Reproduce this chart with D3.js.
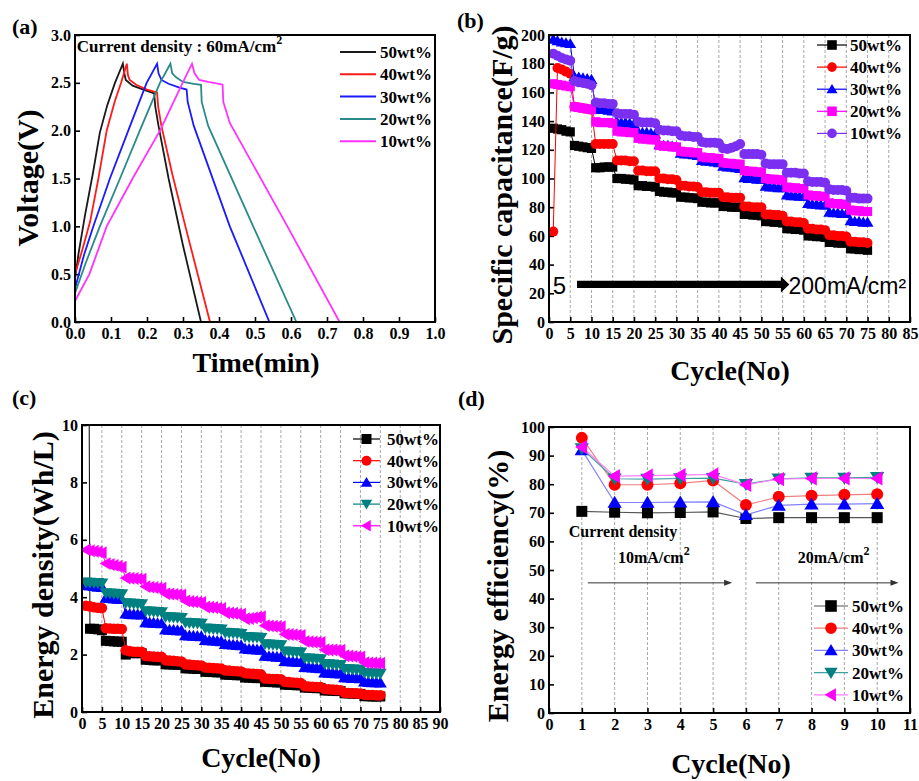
<!DOCTYPE html>
<html><head><meta charset="utf-8">
<script src="https://cdn.jsdelivr.net/npm/d3@7"></script>
<style>
body{margin:0;background:#fff}
svg text{font-family:"Liberation Serif","Times New Roman",serif;font-weight:bold;fill:#000}
</style>
</head><body>
<svg id="chart" width="919" height="781"></svg>
<script>
// ---------- shared ----------
const seriesNames = ["50wt%", "40wt%", "30wt%", "20wt%", "10wt%"];

// ---------- (a) galvanostatic charge/discharge ----------
const aXTicks = [0, 0.1, 0.2, 0.3, 0.4, 0.5, 0.6, 0.7, 0.8, 0.9, 1.0];
const aYTicks = [0, 0.5, 1.0, 1.5, 2.0, 2.5, 3.0];
const aColors = ["#1a1a1a", "#ff1a1a", "#1a1aff", "#2a8a8a", "#ff33ff"];
const a50 = [[0,0.45],[0.01,0.72],[0.028,1.12],[0.05,1.56],[0.069,1.98],[0.09,2.27],[0.111,2.5],[0.133,2.7],[0.137,2.6],[0.141,2.53],[0.16,2.47],[0.19,2.43],[0.22,2.39],[0.223,2.25],[0.232,2.05],[0.26,1.5],[0.3,0.8],[0.35,0]];
const a40 = [[0,0.5],[0.02,0.75],[0.042,1.05],[0.065,1.5],[0.088,2.0],[0.11,2.3],[0.128,2.5],[0.144,2.7],[0.147,2.58],[0.152,2.53],[0.17,2.48],[0.2,2.43],[0.228,2.4],[0.231,2.25],[0.24,2.05],[0.27,1.55],[0.31,0.95],[0.375,0]];
const a30 = [[0,0.35],[0.025,0.7],[0.051,1.0],[0.097,1.5],[0.148,2.0],[0.199,2.5],[0.228,2.7],[0.232,2.6],[0.24,2.53],[0.26,2.49],[0.29,2.45],[0.31,2.43],[0.313,2.3],[0.33,2.05],[0.43,1.0],[0.54,0]];
const a20 = [[0,0.3],[0.03,0.62],[0.069,1.0],[0.125,1.5],[0.18,2.0],[0.236,2.5],[0.265,2.7],[0.27,2.6],[0.28,2.56],[0.3,2.51],[0.33,2.49],[0.35,2.48],[0.352,2.3],[0.37,2.05],[0.495,1.0],[0.615,0]];
const a10 = [[0,0.22],[0.04,0.5],[0.088,1.0],[0.16,1.5],[0.236,2.0],[0.299,2.5],[0.325,2.7],[0.332,2.6],[0.345,2.53],[0.37,2.51],[0.4,2.49],[0.41,2.48],[0.412,2.3],[0.43,2.08],[0.59,1.0],[0.735,0]];

// ---------- (b) specific capacitance ----------
const cycles = [1,2,3,4,5,6,7,8,9,10,11,12,13,14,15,16,17,18,19,20,21,22,23,24,25,26,27,28,29,30,31,32,33,34,35,36,37,38,39,40,41,42,43,44,45,46,47,48,49,50,51,52,53,54,55,56,57,58,59,60,61,62,63,64,65,66,67,68,69,70,71,72,73,74,75];
const bXTicks = [0,5,10,15,20,25,30,35,40,45,50,55,60,65,70,75,80,85];
const bYTicks = [0,20,40,60,80,100,120,140,160,180,200];
const bGrid = [5,10,15,20,25,30,35,40,45,50,55,60,65,70,75,80];
const bColors = ["#000000", "#ff0000", "#0000ff", "#ff00ff", "#7b2ff0"];
const b50 = [135,134.5,134,133,132.5, 123,122.5,122,121.5,121, 107.5,107.5,108,108,108, 100,100,99.5,99.5,99, 95,95,94.5,94.5,94, 91,90.5,90.5,90,90, 87,87,86.5,86.5,86, 83.5,83.5,83,83,83, 80.5,80.5,80,80,80, 75,75,74.5,74.5,74, 70,70,69.5,69.5,69, 65,65,64.5,64.5,64, 60,60,59.5,59.5,59, 55.5,55.5,55,55,55, 51,51,50.5,50.5,50];
const b40 = [63,177,176,174.5,173, 150,149.5,149,148.5,148, 124,124,124,124,124, 112.5,112.5,112.5,112,112, 105.5,105.5,105,105,105, 100,100,99.5,99.5,99, 95,95,94.5,94.5,94, 90.5,90.5,90,90,90, 87,87,86.5,86.5,86.5, 80.5,80.5,80,80,80, 75,75,74.5,74.5,74, 70,70,69.5,69.5,69, 65,65,64.5,64.5,64, 60.5,60.5,60,60,59.5, 56,56,55.5,55.5,55];
const b30 = [197,196,195,194.5,194, 171,170.5,170,169.5,169, 148.5,148,148,147.5,147, 139.5,139,139,138.5,138, 132.5,132,132,131.5,131, 123.5,123,123,122.5,122, 117.5,117,117,116.5,116, 112.5,112,112,111.5,111, 108.5,108,108,107.5,107, 100.5,100,100,99.5,99.5, 94.5,94,94,93.5,93.5, 88.5,88,88,87.5,87.5, 82.5,82,82,81.5,81.5, 76.5,76,76,75.5,75.5, 70.5,70,70,69.5,69.5];
const b20 = [166,165.5,165,164.5,164, 150,149.5,149,148.5,148, 139.5,139,139,139,138.5, 133,132.5,132.5,132,132, 128,127.5,127.5,127,127, 123,122.5,122.5,122,122, 119,118.5,118.5,118,118, 115,114.5,114.5,114,114, 111,110.5,110.5,110,110, 105.5,105,105,104.5,104.5, 100,99.5,99.5,99,99, 94,93.5,93.5,93,93, 88.5,88,88,87.5,87.5, 83,82.5,82.5,82,82, 78,77.5,77.5,77,77];
const b10 = [187,185.5,184,183,182, 168,167,166.5,166,165, 153,152.5,152.5,152,152, 145.5,145,145,145,144.5, 139.5,139,139,139,138.5, 134,133.5,133.5,133,133, 130,129.5,129.5,129,129, 125.5,125,125,125,124.5, 121,120.5,121.5,122.5,124, 117,117,117,117,116.5, 110.5,110,110,110,110, 104,104,104,103.5,103.5, 98,97.5,97.5,97.5,97, 92.5,92,92,92,91.5, 86.5,86.5,86,86,86];

// ---------- (c) energy density ----------
const cXTicks = [0,5,10,15,20,25,30,35,40,45,50,55,60,65,70,75,80,85,90];
const cYTicks = [0,2,4,6,8,10];
const cGrid = [5,10,15,20,25,30,35,40,45,50,55,60,65,70,75,80,85];
const cColors = ["#000000", "#ff0000", "#0000ff", "#008080", "#ff00ff"];
const c50 = [40,2.9,2.9,2.88,2.85, 2.48,2.47,2.46,2.45,2.45, 2.0,2.05,2.05,2.05,2.05, 1.82,1.82,1.8,1.8,1.8, 1.66,1.66,1.65,1.65,1.64, 1.52,1.52,1.51,1.5,1.5, 1.4,1.4,1.39,1.38,1.38, 1.3,1.3,1.29,1.28,1.28, 1.2,1.2,1.19,1.18,1.18, 1.05,1.05,1.04,1.03,1.03, 0.95,0.95,0.94,0.93,0.93, 0.85,0.85,0.84,0.83,0.83, 0.75,0.75,0.74,0.73,0.73, 0.65,0.65,0.64,0.63,0.63, 0.55,0.55,0.54,0.54,0.54];
const c40 = [3.7,3.68,3.65,3.63,3.62, 2.92,2.91,2.9,2.9,2.89, 2.15,2.12,2.1,2.1,2.1, 1.95,1.94,1.93,1.92,1.92, 1.8,1.79,1.78,1.77,1.76, 1.66,1.65,1.64,1.63,1.62, 1.55,1.54,1.53,1.52,1.51, 1.45,1.44,1.43,1.42,1.41, 1.35,1.34,1.33,1.32,1.31, 1.17,1.16,1.15,1.15,1.14, 1.05,1.04,1.03,1.02,1.01, 0.9,0.89,0.88,0.87,0.87, 0.8,0.79,0.78,0.77,0.76, 0.67,0.66,0.65,0.65,0.64, 0.6,0.59,0.59,0.58,0.58];
const c30 = [4.42,4.4,4.38,4.36,4.35, 3.97,3.96,3.95,3.94,3.93, 3.42,3.41,3.4,3.4,3.39, 3.12,3.11,3.1,3.09,3.08, 2.87,2.86,2.85,2.84,2.83, 2.67,2.66,2.65,2.64,2.63, 2.5,2.49,2.48,2.47,2.46, 2.36,2.35,2.34,2.33,2.32, 2.2,2.19,2.18,2.17,2.16, 1.95,1.94,1.93,1.92,1.91, 1.77,1.76,1.75,1.74,1.73, 1.56,1.55,1.54,1.53,1.52, 1.37,1.36,1.35,1.34,1.33, 1.2,1.19,1.18,1.18,1.17, 1.05,1.04,1.03,1.03,1.02];
const c20 = [4.52,4.51,4.5,4.5,4.49, 4.15,4.14,4.13,4.12,4.11, 3.8,3.79,3.78,3.77,3.76, 3.52,3.51,3.5,3.49,3.48, 3.32,3.31,3.3,3.29,3.28, 3.12,3.11,3.1,3.09,3.08, 2.92,2.91,2.9,2.89,2.88, 2.77,2.76,2.75,2.74,2.73, 2.62,2.61,2.6,2.6,2.59, 2.37,2.36,2.35,2.34,2.33, 2.12,2.11,2.1,2.09,2.08, 1.88,1.87,1.86,1.85,1.85, 1.68,1.67,1.66,1.65,1.65, 1.51,1.5,1.49,1.48,1.48, 1.37,1.36,1.35,1.35,1.34];
const c10 = [5.65,5.62,5.6,5.58,5.55, 5.17,5.14,5.11,5.08,5.05, 4.67,4.66,4.65,4.64,4.63, 4.37,4.35,4.34,4.32,4.31, 4.12,4.11,4.1,4.09,4.08, 3.87,3.85,3.84,3.83,3.82, 3.66,3.65,3.64,3.62,3.61, 3.46,3.45,3.44,3.42,3.41, 3.25,3.26,3.28,3.3,3.32, 3.01,3.0,2.99,2.98,2.97, 2.71,2.7,2.69,2.68,2.67, 2.46,2.45,2.44,2.43,2.42, 2.17,2.16,2.16,2.15,2.15, 1.96,1.95,1.94,1.93,1.92, 1.72,1.71,1.71,1.7,1.7];

// ---------- (d) energy efficiency ----------
const dCycles = [1,2,3,4,5,6,7,8,9,10];
const dXTicks = [0,1,2,3,4,5,6,7,8,9,10,11];
const dYTicks = [0,10,20,30,40,50,60,70,80,90,100];
const dGrid = [1,2,3,4,5,6,7,8,9,10];
const dLineColors = ["#555555", "#f08080", "#8080ff", "#40a0a0", "#ff80ff"];
const d50 = [70.5,70.2,70.0,70.1,70.3,68.0,68.3,68.3,68.3,68.3];
const d40 = [96.2,79.8,79.8,80.3,81.3,72.7,75.6,76.0,76.3,76.5];
const d30 = [92.0,73.6,73.6,73.7,73.8,69.3,72.6,73.0,73.0,73.2];
const d20 = [92.5,81.9,81.8,82.0,82.1,80.0,81.9,82.2,82.2,82.4];
const d10 = [93.0,82.8,83.0,83.2,83.4,79.8,81.8,82.0,82.0,82.0];

// ---------- drawing helpers ----------
const svg = d3.select("#chart");
const FONT = '"Liberation Serif","Times New Roman",serif';
const SANS = '"Liberation Sans",Arial,sans-serif';

function shape(type, s) {
  switch (type) {
    case "square": return `M${-s},${-s}h${2*s}v${2*s}h${-2*s}Z`;
    case "circle": return `M${s},0A${s},${s} 0 1,1 ${-s},0A${s},${s} 0 1,1 ${s},0Z`;
    case "up": return `M0,${-s*1.1}L${s*1.15},${s*0.85}L${-s*1.15},${s*0.85}Z`;
    case "down": return `M0,${s*1.1}L${s*1.15},${-s*0.85}L${-s*1.15},${-s*0.85}Z`;
    case "left": return `M${-s*1.1},0L${s*0.85},${-s*1.15}L${s*0.85},${s*1.15}Z`;
  }
}

let clipId = 0;
function panel(box, xDom, yDom, xTicks, yTicks, xFmt, yFmt, grid) {
  const g = svg.append("g");
  const x = d3.scaleLinear().domain(xDom).range([box.x0, box.x1]);
  const y = d3.scaleLinear().domain(yDom).range([box.y1, box.y0]);
  const id = "clip" + (clipId++);
  g.append("clipPath").attr("id", id).append("rect")
    .attr("x", box.x0).attr("y", box.y0).attr("width", box.x1 - box.x0).attr("height", box.y1 - box.y0);
  if (grid) {
    g.append("g").selectAll("line").data(grid).join("line")
      .attr("x1", d => x(d)).attr("x2", d => x(d))
      .attr("y1", box.y0).attr("y2", box.y1)
      .attr("stroke", "#a8a8a8").attr("stroke-width", 1).attr("stroke-dasharray", "3,2");
  }
  const style = sel => {
    sel.select(".domain").remove();
    sel.attr("font-family", FONT).attr("font-size", 16).attr("font-weight", "bold");
    sel.selectAll(".tick line").attr("stroke", "#000").attr("stroke-width", 1.6);
    sel.selectAll(".tick text").attr("fill", "#000");
  };
  g.append("g").attr("transform", `translate(0,${box.y1})`)
    .call(d3.axisBottom(x).tickValues(xTicks).tickFormat(xFmt).tickSize(-5).tickPadding(6)).call(style);
  g.append("g").attr("transform", `translate(${box.x0},0)`)
    .call(d3.axisLeft(y).tickValues(yTicks).tickFormat(yFmt).tickSize(-5).tickPadding(4)).call(style);
  const plot = g.append("g").attr("clip-path", `url(#${id})`);
  const over = g.append("g");
  g.append("rect").attr("x", box.x0).attr("y", box.y0)
    .attr("width", box.x1 - box.x0).attr("height", box.y1 - box.y0)
    .attr("fill", "none").attr("stroke", "#000").attr("stroke-width", 2);
  return {g, x, y, plot, over, box};
}

function drawSeries(p, xs, ys, color, lineColor, type, size, lw) {
  const pts = xs.map((c, i) => [c, ys[i]]);
  p.plot.append("path").datum(pts)
    .attr("d", d3.line().x(d => p.x(d[0])).y(d => p.y(d[1])))
    .attr("fill", "none").attr("stroke", lineColor).attr("stroke-width", lw);
  p.plot.append("g").selectAll("path").data(pts).join("path")
    .attr("transform", d => `translate(${p.x(d[0])},${p.y(d[1])})`)
    .attr("d", shape(type, size)).attr("fill", color);
}

function legend(g, items, x0, x1, tx, y0, dy, size) {
  items.forEach((it, i) => {
    const yy = y0 + i * dy;
    g.append("line").attr("x1", x0).attr("x2", x1).attr("y1", yy).attr("y2", yy)
      .attr("stroke", it.line).attr("stroke-width", it.lw || 1.2);
    if (it.type) g.append("path").attr("transform", `translate(${(x0 + x1) / 2},${yy})`)
      .attr("d", shape(it.type, size)).attr("fill", it.color);
    g.append("text").attr("x", tx).attr("y", yy + 6).attr("font-size", 17).text(it.name);
  });
}

function yTitle(x, y, txt) {
  svg.append("text").attr("transform", `translate(${x},${y}) rotate(-90)`)
    .attr("text-anchor", "middle").attr("font-size", 30).text(txt);
}
function xTitle(x, y, txt) {
  svg.append("text").attr("x", x).attr("y", y).attr("text-anchor", "middle").attr("font-size", 28).text(txt);
}
function label(x, y, txt) {
  svg.append("text").attr("x", x).attr("y", y).attr("font-size", 22).text(txt);
}

// ---------- panel (a) ----------
const pa = panel({x0: 75, x1: 435, y0: 35, y1: 322}, [0, 1], [0, 3], aXTicks, aYTicks, d3.format(".1f"), d3.format(".1f"));
[a50, a40, a30, a20, a10].forEach((s, i) => {
  pa.plot.append("path").datum(s)
    .attr("d", d3.line().x(d => pa.x(d[0])).y(d => pa.y(d[1])))
    .attr("fill", "none").attr("stroke", aColors[i]).attr("stroke-width", 1.8);
});
const aNote = pa.over.append("text").attr("x", pa.x(0.005)).attr("y", pa.y(2.82)).attr("font-size", 17);
aNote.append("tspan").text("Current density : 60mA/cm");
aNote.append("tspan").attr("dy", -8).attr("font-size", 12).text("2");
legend(pa.over, seriesNames.map((n, i) => ({name: n, line: aColors[i], lw: 2})), 340, 376, 380, 52, 22.3, 0);

// ---------- panel (b) ----------
const pb = panel({x0: 549, x1: 910, y0: 35, y1: 322}, [0, 85], [0, 200], bXTicks, bYTicks, d3.format("d"), d3.format("d"), bGrid);
const bTypes = ["square", "circle", "up", "square", "circle"];
const bSizes = [4.6, 5, 5.2, 4.6, 5];
[b50, b40, b30, b20, b10].forEach((s, i) => drawSeries(pb, cycles, s, bColors[i], bColors[i], bTypes[i], bSizes[i], 1));
// annotation arrow 5 -> 200 mA/cm2
pb.plot.append("text").attr("x", pb.x(0.9)).attr("y", pb.y(19.5))
  .style("font-family", SANS).style("font-weight", "normal").attr("font-size", 24).text("5");
{
  const xa = pb.x(6.6), xb = pb.x(54.6), xt = pb.x(56.6), yc = pb.y(26.2);
  pb.plot.append("path").attr("d", `M${xa},${yc - 3.6}L${xb},${yc - 3.6}L${xb},${yc - 8}L${xt},${yc}L${xb},${yc + 8}L${xb},${yc + 3.6}L${xa},${yc + 3.6}Z`).attr("fill", "#000");
}
pb.plot.append("text").attr("x", pb.x(56.4)).attr("y", pb.y(19.5))
  .style("font-family", SANS).style("font-weight", "normal").attr("font-size", 23).text("200mA/cm²");
legend(pb.over, seriesNames.map((n, i) => ({name: n, line: bColors[i], color: bColors[i], type: bTypes[i]})), 817, 847, 850, 45, 22.1, 4.8);

// ---------- panel (c) ----------
const pc = panel({x0: 82, x1: 440, y0: 425, y1: 712}, [0, 90], [0, 10], cXTicks, cYTicks, d3.format("d"), d3.format("d"), cGrid);
const cTypes = ["square", "circle", "up", "down", "left"];
const cSizes = [5, 5.3, 5.6, 5.6, 5.6];
[c50, c40, c30, c20, c10].forEach((s, i) => drawSeries(pc, cycles, s, cColors[i], cColors[i], cTypes[i], cSizes[i], 1));
legend(pc.over, seriesNames.map((n, i) => ({name: n, line: cColors[i], color: cColors[i], type: cTypes[i]})), 353, 380, 387, 439, 21.7, 5);

// ---------- panel (d) ----------
const pd = panel({x0: 549, x1: 910, y0: 427, y1: 713}, [0, 11], [0, 100], dXTicks, dYTicks, d3.format("d"), d3.format("d"), dGrid);
const dSizes = [5.5, 6, 6.2, 6.2, 6.2];
[d50, d40, d30, d20, d10].forEach((s, i) => drawSeries(pd, dCycles, s, cColors[i], dLineColors[i], cTypes[i], dSizes[i], 1.2));
pd.over.append("text").attr("x", pd.x(0.6)).attr("y", pd.y(61.5)).attr("font-size", 16).text("Current density");
[[2.1, "10mA/cm"], [7.58, "20mA/cm"]].forEach(([cx, t]) => {
  const tx = pd.over.append("text").attr("x", pd.x(cx)).attr("y", pd.y(52.4)).attr("font-size", 16);
  tx.append("tspan").text(t);
  tx.append("tspan").attr("dy", -8).attr("font-size", 12).text("2");
});
[[1.18, 5.58], [6.3, 10.65]].forEach(([a, b]) => {
  const yy = pd.y(45.5);
  pd.over.append("line").attr("x1", pd.x(a)).attr("x2", pd.x(b) - 6).attr("y1", yy).attr("y2", yy)
    .attr("stroke", "#333").attr("stroke-width", 1);
  pd.over.append("path").attr("d", `M${pd.x(b)},${yy}L${pd.x(b) - 8},${yy - 3}L${pd.x(b) - 8},${yy + 3}Z`).attr("fill", "#333");
});
legend(pd.over, seriesNames.map((n, i) => ({name: n, line: dLineColors[i], color: cColors[i], type: cTypes[i]})), 814, 848, 852, 606, 22.2, 5.8);

// ---------- titles & panel labels ----------
yTitle(38, 178, "Voltage(V)");
xTitle(256, 372, "Time(min)");
yTitle(512, 185, "Specific capacitance(F/g)");
xTitle(730, 380, "Cycle(No)");
yTitle(53, 575, "Energy density(Wh/L)");
xTitle(261, 767, "Cycle(No)");
yTitle(508, 586, "Energy efficiency(%)");
xTitle(731, 773, "Cycle(No)");
label(12, 34, "(a)");
label(457, 28, "(b)");
label(12, 405, "(c)");
label(458, 406, "(d)");
</script>
</body></html>
